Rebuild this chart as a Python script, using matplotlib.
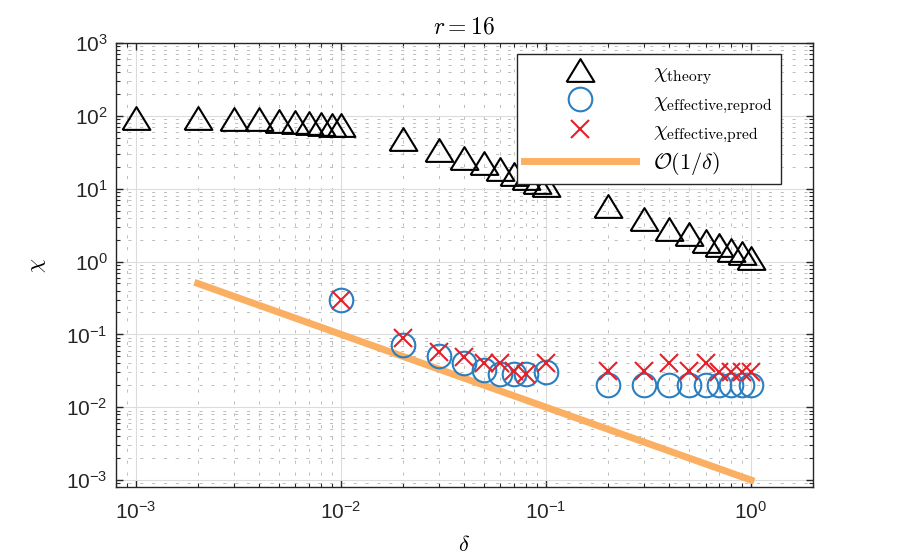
import numpy as np
import matplotlib
matplotlib.use('Agg')
import matplotlib.pyplot as plt
from matplotlib.font_manager import FontProperties
from matplotlib.ticker import LogLocator, NullFormatter

plt.rcParams['font.family'] = ['Liberation Sans', 'DejaVu Sans']
plt.rcParams['mathtext.fontset'] = 'custom'
plt.rcParams['mathtext.rm'] = 'Liberation Sans'

# values
delta_theory = [0.001, 0.002, 0.003, 0.004, 0.005, 0.006, 0.007, 0.008, 0.009,
                0.01, 0.02, 0.03, 0.04, 0.05, 0.06, 0.07, 0.08, 0.09,
                0.1, 0.2, 0.3, 0.4, 0.5, 0.6, 0.7, 0.8, 0.9, 1.0]
chi_theory = [92, 92, 91, 90, 86, 82, 80, 78, 76,
              74, 47.5, 34, 26.6, 22.4, 18.5, 15.8, 13.8, 12.4,
              11.2, 5.7, 3.8, 2.83, 2.35, 1.9, 1.66, 1.45, 1.29, 1.13]

delta_eff = [0.01, 0.02, 0.03, 0.04, 0.05, 0.06, 0.07, 0.08, 0.1,
             0.2, 0.3, 0.4, 0.5, 0.6, 0.7, 0.8, 0.9, 1.0]
chi_reprod = [0.30, 0.071, 0.050, 0.041, 0.032, 0.029, 0.029, 0.029, 0.030,
              0.020, 0.020, 0.020, 0.020, 0.020, 0.020, 0.020, 0.020, 0.020]
chi_pred = [0.30, 0.089, 0.057, 0.049, 0.040, 0.040, 0.031, 0.029, 0.040,
            0.031, 0.031, 0.041, 0.031, 0.041, 0.030, 0.030, 0.030, 0.030]

line_x = [0.002, 1.0]
line_y = [0.5, 0.001]

x_ticks = [1e-3, 1e-2, 1e-1, 1e0]
y_ticks = [1e-3, 1e-2, 1e-1, 1e0, 1e1, 1e2, 1e3]

fig = plt.figure(figsize=(9, 5.58), dpi=100)
ax = fig.add_axes([0.129, 0.127, 0.774, 0.796])

tri = [(-1.0, -0.82), (1.0, -0.82), (0.0, 0.82), (-1.0, -0.82)]

ax.loglog(delta_theory, chi_theory, linestyle='none', marker=tri,
          markersize=20, markerfacecolor='none', markeredgecolor='black',
          markeredgewidth=1.5, label=r'$\chi_{\mathrm{theory}}$', zorder=3)
ax.loglog(delta_eff, chi_reprod, linestyle='none', marker='o',
          markersize=17, markerfacecolor='none', markeredgecolor='#2a7fc0',
          markeredgewidth=1.5, label=r'$\chi_{\mathrm{effective{,}reprod}}$', zorder=3)
ax.loglog(delta_eff, chi_pred, linestyle='none', marker='x',
          markersize=13, markeredgecolor='#e4202a',
          markeredgewidth=1.5, label=r'$\chi_{\mathrm{effective{,}pred}}$', zorder=4)
ax.loglog(line_x, line_y, color='#fbaf62', linewidth=5,
          label=r'$\mathcal{O}(1/\delta)$', zorder=2)

ax.set_xlim(8e-4, 2)
ax.set_ylim(8e-4, 1e3)

ax.set_xticks(x_ticks)
ax.set_yticks(y_ticks)
ax.xaxis.set_minor_locator(LogLocator(base=10, subs=np.arange(2, 10), numticks=20))
ax.yaxis.set_minor_locator(LogLocator(base=10, subs=np.arange(2, 10), numticks=20))
ax.xaxis.set_minor_formatter(NullFormatter())
ax.yaxis.set_minor_formatter(NullFormatter())

ax.grid(True, which='major', color='#dcdcdc', linewidth=0.8, linestyle='-')
ax.grid(True, which='minor', color='#bdbdbd', linewidth=0.7, linestyle=(0, (3.2, 9)))
ax.set_axisbelow(True)

ax.tick_params(which='both', direction='in', top=True, right=True,
               colors='#262626', labelcolor='#262626')
ax.tick_params(which='major', length=5, width=1, labelsize=15)
ax.tick_params(axis='x', which='major', pad=10)
ax.tick_params(axis='y', which='major', pad=6)
ax.tick_params(which='minor', length=3, width=0.8)
for s in ax.spines.values():
    s.set_color('#262626')
    s.set_linewidth(1.0)

ax.set_title(r'$r = 16$', fontproperties=FontProperties(math_fontfamily='cm', size=17), pad=7)
ax.set_xlabel(r'$\delta$', fontproperties=FontProperties(math_fontfamily='cm', size=16), labelpad=9)
ax.set_ylabel(r'$\chi$', fontproperties=FontProperties(math_fontfamily='cm', size=16), labelpad=13)

leg = ax.legend(loc='upper right', bbox_to_anchor=(0.954, 0.975), borderaxespad=0,
                prop=FontProperties(math_fontfamily='cm', size=16),
                handlelength=5.0, fancybox=False, framealpha=1,
                edgecolor='#262626', borderpad=0.35, labelspacing=0.2,
                handletextpad=0.8)
leg.get_frame().set_linewidth(1.0)

fig.savefig('out.png', dpi=100)
